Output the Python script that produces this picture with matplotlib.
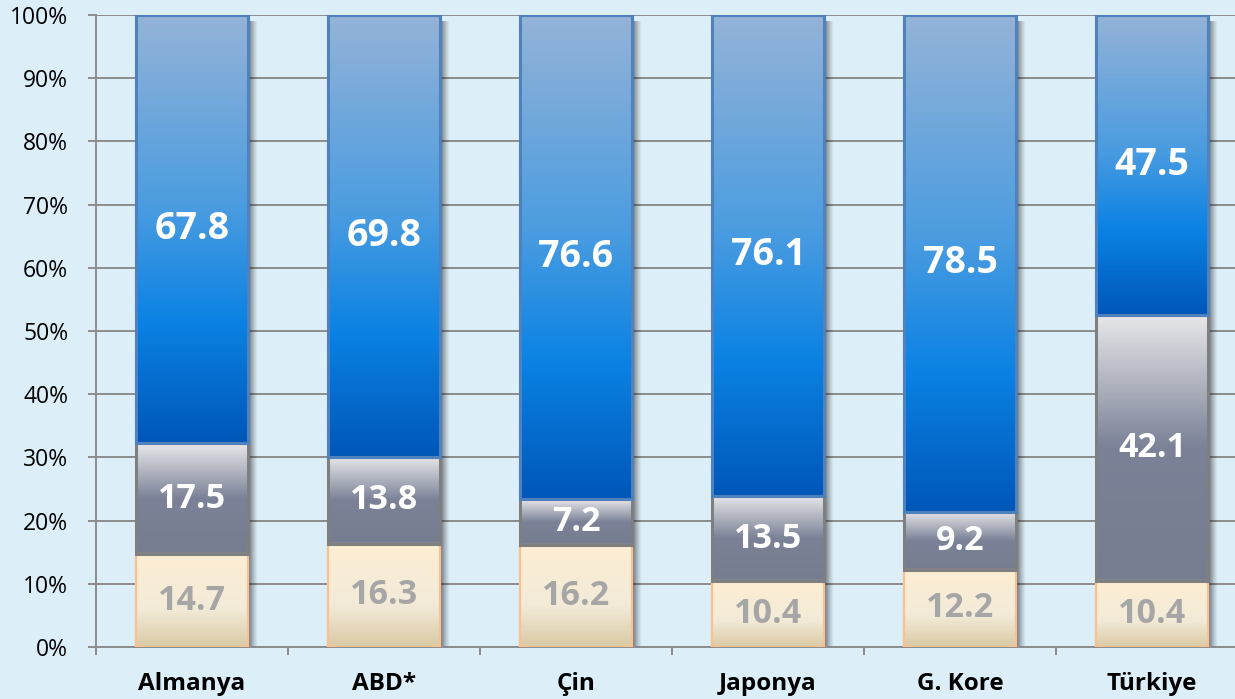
import numpy as np
import matplotlib
matplotlib.use("Agg")
import matplotlib.pyplot as plt
from matplotlib.colors import LinearSegmentedColormap
from matplotlib.ticker import FuncFormatter, FixedLocator

plt.rcParams['font.family'] = ['Open Sans', 'DejaVu Sans']

countries = ['Almanya', 'ABD*', 'Çin', 'Japonya', 'G. Kore', 'Türkiye']
bottom_vals = [14.7, 16.3, 16.2, 10.4, 12.2, 10.4]
middle_vals = [17.5, 13.8, 7.2, 13.5, 9.2, 42.1]
top_vals = [67.8, 69.8, 76.6, 76.1, 78.5, 47.5]

bg = '#dceef8'
grid_col = '#8c8c8c'

# gradient colour maps (top of segment -> bottom of segment)
cmap_top = LinearSegmentedColormap.from_list('blue', [
    (0.0, '#95b3d7'), (0.45, '#4a9ce0'), (0.72, '#0a82e4'), (1.0, '#0057b8')])
cmap_mid = LinearSegmentedColormap.from_list('grey', [
    (0.0, '#e8e8ea'), (0.5, '#7b8297'), (1.0, '#767d90')])
cmap_bot = LinearSegmentedColormap.from_list('beige', [
    (0.0, '#fdeed3'), (0.6, '#f2ead8'), (1.0, '#dacaa4')])

# normalise to 100 %
tot = np.array(bottom_vals) + np.array(middle_vals) + np.array(top_vals)
b = np.array(bottom_vals) / tot * 100
m = np.array(middle_vals) / tot * 100
t = np.array(top_vals) / tot * 100

fig = plt.figure(figsize=(12.35, 6.99), dpi=100, facecolor=bg)
ax = fig.add_axes([96 / 1235, 52 / 699, 1152 / 1235, 632 / 699])
ax.set_facecolor(bg)

x = np.arange(len(countries))
w = 0.58
grad = np.linspace(0, 1, 256).reshape(-1, 1)

# shadow to the right of the bars
shadow = np.zeros((1, 40, 4))
shadow[0, :, 3] = np.linspace(0.6, 0.0, 40) ** 1.2
for xi in x:
    ax.imshow(shadow, extent=(xi + w / 2, xi + w / 2 + 0.05, -0.3, 99.0),
              aspect='auto', zorder=2, interpolation='bilinear')

segments = [
    (b, np.zeros(len(x)), cmap_bot, '#fac08f', 1.6, '#a6a6a6', 24.5),
    (m, b, cmap_mid, '#7f7f7f', 2.2, 'white', 24.5),
    (t, b + m, cmap_top, '#4f81bd', 2.2, 'white', 27),
]
labels_by_seg = [bottom_vals, middle_vals, top_vals]

for (h, base, cmap, ec, lw, tc, fs), labs in zip(segments, labels_by_seg):
    for xi, hi, bi, lab in zip(x, h, base, labs):
        ax.imshow(grad, cmap=cmap, extent=(xi - w / 2, xi + w / 2, bi, bi + hi),
                  aspect='auto', zorder=3, interpolation='bilinear')
        ax.text(xi, bi + hi / 2, f'{lab:.1f}', ha='center', va='center',
                color=tc, fontsize=fs, fontweight='bold', zorder=6)
    ax.bar(x, h, w, bottom=base, fill=False, edgecolor=ec, linewidth=lw, zorder=4)

ax.set_xlim(-0.5, len(countries) - 0.5)
ax.set_ylim(0, 100)

ax.yaxis.set_major_locator(FixedLocator(np.arange(0, 101, 10)))
ax.yaxis.set_major_formatter(FuncFormatter(lambda v, p: f'{v:.0f}%'))
ax.grid(axis='y', color=grid_col, linewidth=1.4, zorder=1)
ax.set_axisbelow(True)

ax.set_xticks(x)
ax.set_xticklabels(countries, fontsize=17.5, fontweight='bold')
ax.set_xticks(np.arange(-0.5, len(countries), 1), minor=True)
ax.tick_params(axis='x', which='major', length=0, pad=18)
ax.tick_params(axis='x', which='minor', length=6, width=1.4, color=grid_col)
ax.tick_params(axis='y', length=6, width=1.4, color=grid_col, pad=14, labelsize=16.5)

for s in ['top', 'right']:
    ax.spines[s].set_visible(False)
ax.spines['left'].set_color(grid_col)
ax.spines['left'].set_linewidth(1.4)
ax.spines['bottom'].set_color(grid_col)
ax.spines['bottom'].set_linewidth(1.4)

fig.savefig('out.png', dpi=100, facecolor=bg)
